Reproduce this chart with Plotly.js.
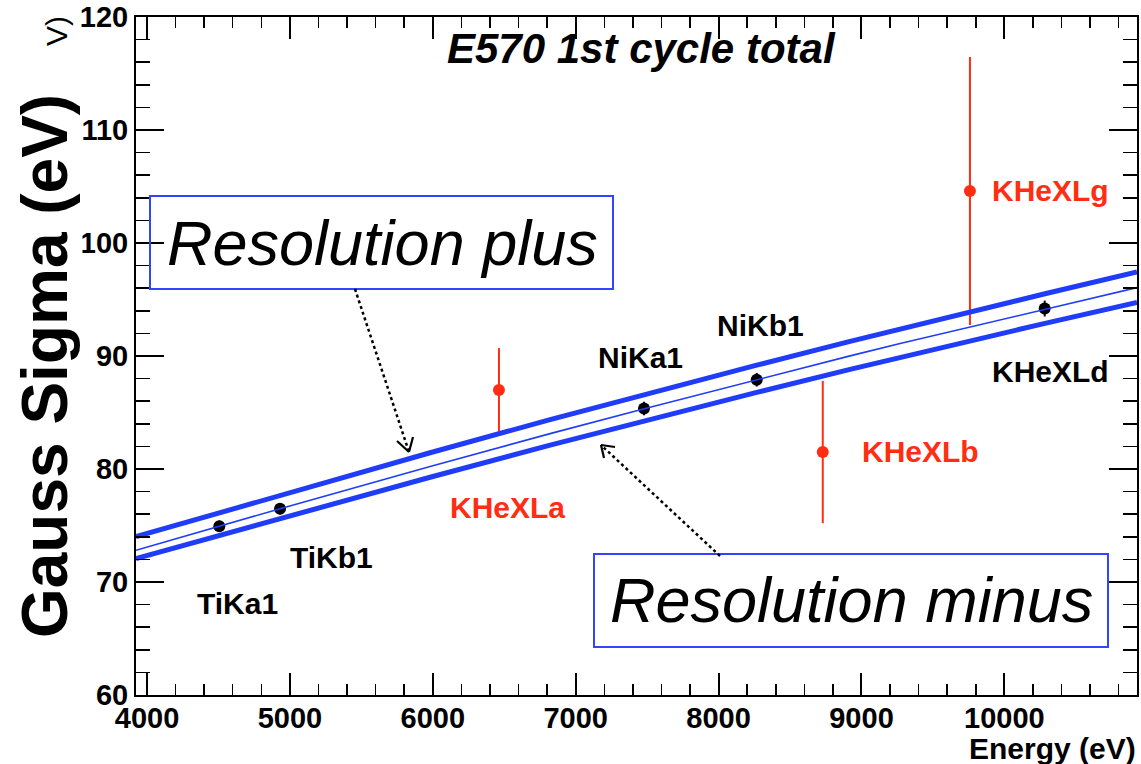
<!DOCTYPE html>
<html>
<head>
<meta charset="utf-8">
<script src="https://cdn.plot.ly/plotly-3.0.1.min.js"></script>
<style>
  html, body { margin: 0; padding: 0; background: #ffffff; }
  #plot { width: 1141px; height: 764px; }
</style>
</head>
<body>
<div id="plot"></div>
<script>
// Resolution curve (fit) and its +/- envelope, sampled along the energy axis
const lineEnergy = [3923, 4506, 4931, 5981, 6821, 7480, 8267, 8920, 9270, 10284, 10928];
const fitCentre  = [72.81, 74.94, 76.48, 80.22, 83.13, 85.34, 87.92, 90.01, 91.10, 94.16, 96.05];
const resPlus    = [74.01, 76.14, 77.69, 81.44, 84.37, 86.59, 89.19, 91.30, 92.40, 95.51, 97.43];
const resMinus   = [72.08, 74.14, 75.63, 79.27, 82.11, 84.26, 86.78, 88.82, 89.89, 92.89, 94.75];

// Calibration lines (black)
const calibNames  = ["TiKa1", "TiKb1", "NiKa1", "NiKb1", "KHeXLd"];
const calibEnergy = [4506, 4931, 7478, 8267, 10282];
const calibSigma  = [74.94, 76.48, 85.36, 87.90, 94.20];
const calibErr    = [0.5, 0.5, 0.6, 0.6, 0.7];

// Kaonic helium lines (red)
const kaonNames  = ["KHeXLa", "KHeXLb", "KHeXLg"];
const kaonEnergy = [6463, 8729, 9759];
const kaonSigma  = [87.0, 81.5, 104.6];
const kaonErr    = [3.7, 6.3, 11.85];

// Line labels
const labelText   = ["TiKa1", "TiKb1", "KHeXLa", "NiKa1", "NiKb1", "KHeXLb", "KHeXLg", "KHeXLd"];
const labelEnergy = [4630, 5288, 6520, 7451, 8291, 9411, 10321, 10321];
const labelSigma  = [68.1, 72.17, 76.6, 89.89, 92.72, 81.56, 104.68, 88.64];

const FONT = "Liberation Sans, Arial, Helvetica, sans-serif";
const BLUE = "#1f3cf8";
const RED = "#ff2d12";

// plot frame in pixels
const M = { l: 136, r: 4, t: 17, b: 69 };
const W = 1141, H = 764;
const PW = W - M.l - M.r, PH = H - M.t - M.b;
const px = x => (x - M.l) / PW;
const py = y => (H - M.b - y) / PH;

const traces = [
  {
    x: calibEnergy, y: calibSigma, type: "scatter", mode: "markers",
    marker: { color: "#000000", size: 12 },
    error_y: { type: "data", array: calibErr, color: "#000000", thickness: 2, width: 0 },
    text: calibNames, showlegend: false
  },
  {
    x: kaonEnergy, y: kaonSigma, type: "scatter", mode: "markers",
    marker: { color: RED, size: 12 },
    error_y: { type: "data", array: kaonErr, color: RED, thickness: 2, width: 0 },
    text: kaonNames, showlegend: false
  },
  {
    x: lineEnergy, y: resPlus, type: "scatter", mode: "lines",
    line: { color: BLUE, width: 5 }, showlegend: false
  },
  {
    x: lineEnergy, y: resMinus, type: "scatter", mode: "lines",
    line: { color: BLUE, width: 5 }, showlegend: false
  },
  {
    x: lineEnergy, y: fitCentre, type: "scatter", mode: "lines",
    line: { color: BLUE, width: 1.6 }, showlegend: false
  }
];

const annotations = labelText.map((t, i) => ({
  x: labelEnergy[i], y: labelSigma[i], xref: "x", yref: "y",
  text: t, showarrow: false, xanchor: "center", yanchor: "middle",
  font: { family: FONT, size: 30, weight: 700, color: kaonNames.includes(t) ? RED : "#000000" }
}));

// title
annotations.push({
  x: px(641), y: py(48), xref: "paper", yref: "paper", text: "<i>E570 1st cycle total</i>",
  showarrow: false, xanchor: "center", yanchor: "middle",
  font: { family: FONT, size: 42, weight: 700, color: "#000000" }
});
// x axis title
annotations.push({
  x: px(1138), y: py(749), xref: "paper", yref: "paper", text: "Energy (eV)",
  showarrow: false, xanchor: "right", yanchor: "middle",
  font: { family: FONT, size: 30, weight: 700, color: "#000000" }
});
// y axis title (large) and the small leftover tail of the original one
annotations.push({
  x: px(57), y: py(31), xref: "paper", yref: "paper", text: "V)",
  showarrow: false, textangle: -90, xanchor: "center", yanchor: "middle",
  font: { family: FONT, size: 30, color: "#000000" }
});
annotations.push({
  x: px(45), y: py(366), xref: "paper", yref: "paper", text: "Gauss Sigma (eV)",
  showarrow: false, textangle: -90, xanchor: "center", yanchor: "middle",
  bgcolor: "#ffffff",
  font: { family: FONT, size: 64, weight: 700, color: "#000000" }
});
// boxed notes
annotations.push({
  x: px(382), y: py(243), xref: "paper", yref: "paper", text: "<i>Resolution plus</i>",
  showarrow: false, xanchor: "center", yanchor: "middle",
  font: { family: FONT, size: 63, color: "#000000" }
});
annotations.push({
  x: px(851), y: py(600), xref: "paper", yref: "paper", text: "<i>Resolution minus</i>",
  showarrow: false, xanchor: "center", yanchor: "middle",
  font: { family: FONT, size: 63, color: "#000000" }
});

const seg = (x0, y0, x1, y1, extra) => Object.assign({
  type: "line", xref: "paper", yref: "paper",
  x0: px(x0), y0: py(y0), x1: px(x1), y1: py(y1),
  line: { color: "#000000", width: 2.2 }
}, extra || {});

const shapes = [
  { type: "rect", xref: "paper", yref: "paper", x0: px(150), y0: py(196), x1: px(613), y1: py(289),
    line: { color: "#3344ff", width: 2 }, fillcolor: "rgba(255,255,255,0)", layer: "above" },
  { type: "rect", xref: "paper", yref: "paper", x0: px(594), y0: py(554), x1: px(1108), y1: py(647),
    line: { color: "#3344ff", width: 2 }, fillcolor: "rgba(255,255,255,0)", layer: "above" },
  // dotted pointers with open heads
  seg(355, 289, 409, 452, { line: { color: "#000000", width: 2.5, dash: "dot" } }),
  seg(409, 452, 397, 441),
  seg(409, 452, 413, 437),
  seg(720, 556, 601, 445, { line: { color: "#000000", width: 2.5, dash: "dot" } }),
  seg(601, 445, 604, 458),
  seg(601, 445, 615, 447)
];

const axisCommon = {
  showline: true, linecolor: "#000000", linewidth: 2, mirror: "allticks",
  ticks: "inside", tickcolor: "#000000", tickwidth: 2,
  showgrid: false, zeroline: false, fixedrange: true,
  tickfont: { family: FONT, size: 29, weight: 700, color: "#000000" }
};

const layout = {
  width: W, height: H,
  margin: { l: M.l, r: M.r, t: M.t, b: M.b, pad: 0 },
  paper_bgcolor: "#ffffff", plot_bgcolor: "#ffffff",
  showlegend: false,
  xaxis: Object.assign({}, axisCommon, {
    range: [3923, 10928], tick0: 0, dtick: 1000, ticklen: 22, tickformat: "d",
    ticklabelstandoff: -4,
    minor: { dtick: 200, tick0: 0, ticks: "inside", ticklen: 11, tickwidth: 1.5, tickcolor: "#000000", showgrid: false }
  }),
  yaxis: Object.assign({}, axisCommon, {
    range: [60, 120], tick0: 0, dtick: 10, ticklen: 28,
    minor: { dtick: 2, tick0: 0, ticks: "inside", ticklen: 14, tickwidth: 1.5, tickcolor: "#000000", showgrid: false }
  }),
  annotations: annotations,
  shapes: shapes
};

Plotly.newPlot("plot", traces, layout, { staticPlot: true, displayModeBar: false });
</script>
</body>
</html>
